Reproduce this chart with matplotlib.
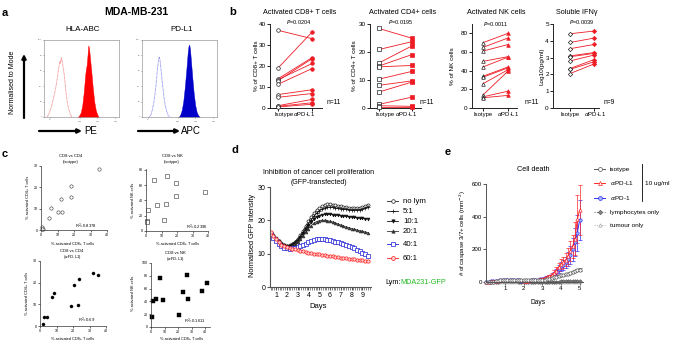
import numpy as np
import matplotlib
matplotlib.use('Agg')
import matplotlib.pyplot as plt
from matplotlib.ticker import FixedLocator, MultipleLocator

# ---------------- data ----------------
# panel a: flow histograms (x in relative log-fluorescence units 0-100, y in % of mode)
hla_iso_x = [4, 6, 8, 10, 12, 14, 16, 18, 19, 20, 21, 22, 23, 24, 25, 27, 29, 31, 33, 35, 37]
hla_iso_y = [0, 3, 8, 14, 22, 30, 40, 52, 60, 66, 72, 70, 77, 74, 68, 55, 35, 20, 10, 4, 0]
hla_pos_x = [45, 47, 49, 51, 53, 55, 56, 57, 58, 59, 60, 61, 63, 65, 67, 69, 71, 73]
hla_pos_y = [0, 2, 6, 15, 32, 55, 63, 68, 80, 93, 90, 80, 60, 38, 20, 9, 3, 0]
pdl1_iso_x = [10, 12, 14, 16, 18, 19, 20, 21, 22, 23, 24, 25, 27, 29, 31, 33, 35, 37]
pdl1_iso_y = [0, 3, 10, 20, 35, 45, 56, 66, 74, 78, 74, 65, 45, 28, 15, 7, 2, 0]
pdl1_pos_x = [49, 51, 53, 55, 57, 59, 60, 61, 62, 63, 64, 65, 67, 69, 71, 73, 75, 77]
pdl1_pos_y = [0, 3, 9, 20, 38, 60, 72, 84, 92, 94, 88, 76, 52, 30, 15, 6, 2, 0]
hist_tick_pos = [8, 48, 71, 95]
hist_tick_lab = ['0', '10$^3$', '10$^4$', '10$^5$']

# panel b: paired values (isotype vs anti-PD-L1)
b_groups = ['Isotype', r'$\alpha$PD-L1']
cd8_iso = [37.0, 19.0, 13.9, 13.5, 13.0, 11.3, 6.4, 5.1, 1.1, 0.8, 0.5]
cd8_pd = [33.0, 36.2, 24.0, 21.2, 23.5, 18.8, 8.7, 6.9, 4.1, 2.5, 1.8]
cd4_iso = [28.4, 20.9, 16.1, 15.0, 14.7, 10.3, 8.1, 5.7, 1.3, 0.8, 0.4]
cd4_pd = [24.9, 23.7, 22.2, 19.1, 15.2, 13.1, 9.7, 9.3, 3.9, 0.6, 0.4]
nk_iso = [70, 65, 61, 50, 44, 34, 33, 26, 14, 12, 11]
nk_pd = [80, 75, 68, 55, 54.5, 44, 43, 41, 39.5, 18, 13.5]
ifn_iso = [4.42, 3.90, 3.53, 3.10, 3.05, 2.80, 2.35, 2.30, 2.05]
ifn_pd = [4.58, 4.16, 3.78, 3.30, 3.25, 3.15, 2.88, 2.75, 2.62]

# panel c: correlations
c_tl_x = [35.4, 18.2, 18.2, 12.1, 6.3, 10.3, 12.9, 4.8, 0.6, 1.0, 0.4]
c_tl_y = [28.4, 20.8, 15.6, 14.5, 10.3, 8.4, 8.4, 5.6, 1.3, 0.6, 0.4]
c_tr_x = [1.5, 0.9, 0.9, 5.3, 7.0, 13.4, 13.2, 11.3, 19.6, 19.6, 38.0]
c_tr_y = [26.8, 13.0, 11.3, 67.0, 33.8, 72.3, 35.0, 14.3, 63.2, 45.9, 51.0]
c_bl_x = [31.9, 35.0, 23.4, 20.4, 8.5, 7.1, 18.6, 23.0, 2.4, 4.0, 1.8]
c_bl_y = [24.6, 23.4, 21.8, 18.9, 15.1, 13.2, 9.2, 9.7, 4.2, 4.2, 0.9]
c_br_x = [1.0, 1.2, 3.4, 6.9, 8.8, 20.9, 23.6, 26.5, 27.3, 37.6, 41.3]
c_br_y = [15.6, 40.0, 44.0, 76.0, 42.0, 19.3, 54.7, 80.7, 43.2, 56.3, 69.3]

# panel d: GFP intensity over days
d_days = [0.5, 0.75, 1.0, 1.25, 1.5, 1.75, 2.0, 2.25, 2.5, 2.75, 3.0, 3.25, 3.5, 3.75,
          4.0, 4.25, 4.5, 4.75, 5.0, 5.25, 5.5, 5.75, 6.0, 6.25, 6.5, 6.75, 7.0, 7.25,
          7.5, 7.75, 8.0, 8.25, 8.5, 8.75, 9.0, 9.25, 9.5]
d_nolym = [16.3, 15.5, 14.6, 13.8, 13.1, 12.6, 12.4, 12.5, 12.9, 13.6, 14.5, 15.6, 16.9, 18.3,
           19.7, 21.0, 22.1, 23.0, 23.7, 24.2, 24.6, 24.8, 24.8, 24.7, 24.5, 24.3, 24.2, 24.0,
           23.9, 23.8, 23.7, 23.7, 23.7, 23.8, 24.0, 24.3, 24.7]
d_5 = [16.0, 15.2, 14.4, 13.7, 13.0, 12.5, 12.3, 12.4, 12.8, 13.4, 14.2, 15.2, 16.4, 17.7,
       19.0, 20.2, 21.2, 22.1, 22.8, 23.3, 23.7, 23.9, 24.0, 23.9, 23.7, 23.6, 23.5, 23.4,
       23.3, 23.2, 23.1, 23.1, 23.1, 23.2, 23.3, 23.6, 24.0]
d_10 = [16.1, 15.3, 14.5, 13.7, 13.0, 12.5, 12.2, 12.2, 12.5, 13.0, 13.8, 14.8, 15.9, 17.1,
        18.3, 19.4, 20.3, 21.0, 21.4, 21.7, 21.8, 21.8, 21.8, 21.7, 21.6, 21.5, 21.4, 21.3,
        21.2, 21.1, 21.0, 20.9, 20.8, 20.7, 20.6, 20.5, 20.5]
d_20 = [16.0, 15.2, 14.4, 13.6, 12.9, 12.3, 12.0, 12.0, 12.3, 12.8, 13.5, 14.4, 15.4, 16.5,
        17.5, 18.4, 19.1, 19.6, 19.9, 20.0, 20.0, 19.9, 19.7, 19.5, 19.2, 18.9, 18.6, 18.3,
        18.0, 17.8, 17.5, 17.3, 17.1, 16.9, 16.7, 16.5, 16.3]
d_40 = [15.8, 14.8, 13.8, 13.0, 12.3, 11.8, 11.6, 11.5, 11.6, 11.8, 12.0, 12.3, 12.6, 13.0,
        13.4, 13.8, 14.1, 14.3, 14.4, 14.4, 14.3, 14.2, 14.0, 13.8, 13.6, 13.4, 13.1, 12.8,
        12.5, 12.2, 11.9, 11.6, 11.2, 10.8, 10.3, 9.8, 9.2]
d_60 = [16.5, 15.4, 14.3, 13.4, 12.7, 12.2, 11.9, 11.7, 11.5, 11.3, 11.1, 10.9, 10.7, 10.5,
        10.3, 10.1, 10.0, 9.9, 9.8, 9.6, 9.5, 9.4, 9.3, 9.2, 9.0, 8.9, 8.8, 8.7,
        8.6, 8.5, 8.4, 8.3, 8.2, 8.1, 8.0, 7.9, 7.8]
d_labels = ['no lym', '5:1', '10:1', '20:1', '40:1', '60:1']

# panel e: caspase 3/7+ cells over days
e_days = [0.0, 0.125, 0.25, 0.375, 0.5, 0.625, 0.75, 0.875, 1.0, 1.125, 1.25, 1.375, 1.5, 1.625,
          1.75, 1.875, 2.0, 2.125, 2.25, 2.375, 2.5, 2.625, 2.75, 2.875, 3.0, 3.125, 3.25, 3.375,
          3.5, 3.625, 3.75, 3.875, 4.0, 4.125, 4.25, 4.375, 4.5, 4.625, 4.75, 4.875, 5.0]
e_iso = [2, 2, 3, 3, 4, 6, 10, 13, 15, 15, 14, 13, 12, 11, 10, 10, 10, 10, 10, 10,
         10, 11, 11, 12, 13, 14, 16, 18, 22, 28, 33, 37, 40, 43, 46, 50, 55, 62, 68, 73, 76]
e_iso_err = [1, 1, 1, 1, 1, 2, 2, 2, 2, 2, 2, 2, 2, 2, 2, 2, 2, 2, 2, 2,
             2, 2, 2, 2, 2, 2, 3, 3, 3, 4, 4, 4, 5, 5, 5, 6, 6, 6, 7, 7, 8]
e_pdl1 = [2, 3, 4, 5, 6, 8, 11, 14, 15, 15, 14, 13, 12, 11, 10, 10, 9, 9, 9, 10,
          11, 13, 15, 18, 21, 25, 30, 36, 42, 55, 70, 92, 108, 120, 135, 160, 190, 220, 265, 385, 440]
e_pdl1_err = [1, 1, 1, 1, 2, 2, 3, 3, 3, 3, 3, 3, 3, 2, 2, 2, 2, 2, 2, 2,
              3, 3, 4, 4, 5, 6, 7, 9, 12, 16, 20, 25, 30, 35, 40, 50, 60, 70, 100, 145, 155]
e_pd1 = [2, 3, 4, 5, 6, 8, 10, 13, 14, 14, 13, 12, 11, 10, 10, 9, 9, 9, 9, 10,
         11, 12, 14, 17, 20, 23, 27, 32, 38, 48, 62, 80, 95, 105, 120, 140, 165, 200, 245, 300, 380]
e_pd1_err = [1, 1, 1, 1, 2, 2, 3, 3, 3, 3, 3, 3, 2, 2, 2, 2, 2, 2, 2, 2,
             3, 3, 4, 4, 5, 6, 7, 8, 10, 14, 18, 22, 26, 30, 35, 45, 55, 70, 85, 110, 125]
e_lym = [1, 1, 2, 2, 3, 3, 4, 5, 5, 5, 5, 4, 4, 4, 3, 3, 3, 3, 3, 3,
         3, 3, 3, 3, 3, 3, 3, 3, 3, 3, 3, 3, 4, 4, 4, 4, 4, 4, 4, 4, 4]
e_tum = [1, 1, 1, 1, 1, 1, 1, 1, 1, 1, 1, 1, 1, 1, 1, 1, 1, 1, 1, 1,
         1, 1, 1, 1, 1, 1, 1, 1, 1, 1, 1, 1, 1, 1, 1, 1, 1, 1, 1, 1, 1]
e_labels = ['isotype', r'$\alpha$PD-L1', r'$\alpha$PD-1', 'lymphocytes only', 'tumour only']

# ---------------- figure ----------------
plt.rcParams['font.family'] = ['Liberation Sans', 'DejaVu Sans']
plt.rcParams['mathtext.fontset'] = 'dejavusans'
W, H = 677, 347
fig = plt.figure(figsize=(6.77, 3.47), dpi=100)

RED = '#ee1c25'
BLUE = '#1a1ad6'


def add_ax(L, T, R, B):
    return fig.add_axes([L / W, 1 - B / H, (R - L) / W, (B - T) / H])


axo = fig.add_axes([0, 0, 1, 1], zorder=20)
axo.set_xlim(0, W)
axo.set_ylim(H, 0)
axo.axis('off')
axo.patch.set_alpha(0)


def T(x, y, s, size=5, ha='center', va='center', **kw):
    axo.text(x, y, s, fontsize=size, ha=ha, va=va, **kw)


def style(ax, lw=0.7, col='#222222', tl=2.0, fs=4.5):
    for s in ['top', 'right']:
        ax.spines[s].set_visible(False)
    for s in ['left', 'bottom']:
        ax.spines[s].set_linewidth(lw)
        ax.spines[s].set_color(col)
    ax.tick_params(width=lw, length=tl, labelsize=fs, pad=1, color=col)


# ---------- panel a ----------
T(2, 13, 'a', size=8, ha='left', weight='bold')
T(136, 12, 'MDA-MB-231', size=7.5, weight='bold')
T(83, 29, 'HLA-ABC', size=5.8)
T(182, 29, 'PD-L1', size=5.8)
for (L, R, ix, iy, px, py, c_iso, c_pos) in [
        (44, 119, hla_iso_x, hla_iso_y, hla_pos_x, hla_pos_y, '#f08080', '#ff0000'),
        (142, 217, pdl1_iso_x, pdl1_iso_y, pdl1_pos_x, pdl1_pos_y, '#8080f0', '#0000c8')]:
    ax = add_ax(L, 40, R, 117)
    ax.set_xlim(0, 100)
    ax.set_ylim(0, 100)
    ax.plot(ix, iy, color=c_iso, lw=0.6, ls=(0, (1, 0.6)))
    ax.fill_between(px, py, color=c_pos, lw=0.3)
    for s in ax.spines.values():
        s.set_linewidth(0.5)
        s.set_color('#9a9a9a')
    ax.set_yticks([0, 20, 40, 60, 80, 100])
    ax.set_yticklabels(['0', '20', '40', '60', '80', '100'])
    ax.set_xticks(hist_tick_pos)
    ax.set_xticklabels(hist_tick_lab)
    ax.tick_params(length=1, width=0.4, labelsize=1.6, pad=0.5, colors='#555555')
T(13, 82, 'Normalised to Mode', size=5, rotation=90)
axo.annotate('', xy=(24, 54), xytext=(24, 118),
             arrowprops=dict(arrowstyle='-|>', lw=1.6, color='k', mutation_scale=6, shrinkA=0, shrinkB=0))
axo.annotate('', xy=(82, 131), xytext=(39, 131),
             arrowprops=dict(arrowstyle='-|>', lw=1.6, color='k', mutation_scale=6, shrinkA=0, shrinkB=0))
axo.annotate('', xy=(180, 131), xytext=(138, 131),
             arrowprops=dict(arrowstyle='-|>', lw=1.6, color='k', mutation_scale=6, shrinkA=0, shrinkB=0))
T(91, 131, 'PE', size=7)
T(191, 131, 'APC', size=7)

# ---------- panel b ----------
T(233, 12, 'b', size=8, weight='bold')
b_specs = [
    dict(L=270, R=322, xl=(-0.235, 1.29), iso=cd8_iso, pd=cd8_pd, ylim=(0, 40), ticks=[0, 10, 20, 30, 40],
         m='o', title='Activated CD8+ T cells', tx=300, ylab='% of CD8+ T cells', ylx=256,
         p='=0.0204', px=299, py=22, n='n=11', nx=327, lab=(284, 304)),
    dict(L=370, R=421, xl=(-0.273, 1.27), iso=cd4_iso, pd=cd4_pd, ylim=(0, 30), ticks=[0, 10, 20, 30],
         m='s', title='Activated CD4+ cells', tx=403, ylab='% of CD4+ T cells', ylx=355,
         p='=0.0195', px=401, py=22, n='n=11', nx=420, lab=(385, 406)),
    dict(L=472, R=517, xl=(-0.44, 1.36), iso=nk_iso, pd=nk_pd, ylim=(0, 90), ticks=[0, 20, 40, 60, 80],
         m='^', title='Activated NK cells', tx=496, ylab='% of NK cells', ylx=452,
         p='=0.0011', px=496, py=24, n='n=11', nx=525, lab=(483, 508)),
    dict(L=553, R=599, xl=(-0.71, 1.21), iso=ifn_iso, pd=ifn_pd, ylim=(0, 5), ticks=[0, 1, 2, 3, 4, 5],
         m='D', title='Soluble IFN\u03b3', tx=577, ylab='Log10(pg/ml)', ylx=542,
         p='=0.0039', px=582, py=22, n='n=9', nx=604, lab=(570, 595)),
]
for sp in b_specs:
    ax = add_ax(sp['L'], 24, sp['R'], 108)
    ax.set_xlim(*sp['xl'])
    ax.set_ylim(*sp['ylim'])
    ms = 2.6 if sp['m'] != 'D' else 2.2
    for a, b in zip(sp['iso'], sp['pd']):
        ax.plot([0, 1], [a, b], color=RED, lw=0.6, zorder=2)
    ax.plot(np.zeros(len(sp['iso'])), sp['iso'], ls='none', marker=sp['m'], ms=ms,
            mfc='white', mec='#222222', mew=0.5, zorder=3, clip_on=False)
    ax.plot(np.ones(len(sp['pd'])), sp['pd'], ls='none', marker=sp['m'], ms=ms,
            mfc=RED, mec=RED, mew=0.5, zorder=3, clip_on=False)
    ax.set_yticks(sp['ticks'])
    ax.set_xticks([0, 1])
    ax.set_xticklabels(['', ''])
    style(ax, lw=0.7, fs=4.6)
    T(sp['tx'], 12, sp['title'], size=5.2)
    T(sp['ylx'], 66, sp['ylab'], size=4.6, rotation=90)
    T(sp['px'], sp['py'], '$P$' + sp['p'], size=4.0)
    T(sp['nx'], 102, sp['n'], size=4.8, ha='left')
    T(sp['lab'][0], 114, b_groups[0], size=4.2)
    T(sp['lab'][1], 114, b_groups[1], size=4.2)

# ---------- panel c ----------
T(5, 154, 'c', size=8, weight='bold')
c_specs = [
    dict(box=(41, 166, 107, 230), x=c_tl_x, y=c_tl_y, xlim=(0, 40), ylim=(0, 30), yt=[0, 10, 20, 30],
         m='o', filled=False, t1='CD8 vs CD4', t2='(isotype)', tx=71, ty=156,
         r2='R$^2$=0.8378', rx=97, ry=226, ylab='% activated CD4+ T cells', ylx=28, yly=197, xlx=73, xly=244),
    dict(box=(146, 169, 208, 231), x=c_tr_x, y=c_tr_y, xlim=(0, 40), ylim=(0, 81), yt=[0, 20, 40, 60, 80],
         m='s', filled=False, t1='CD8 vs NK', t2='(isotype)', tx=172, ty=156,
         r2='R$^2$=0.2396', rx=208, ry=227, ylab='% activated NK cells', ylx=133, yly=200, xlx=178, xly=244),
    dict(box=(40, 261, 106, 326), x=c_bl_x, y=c_bl_y, xlim=(0, 40), ylim=(0, 30), yt=[0, 10, 20, 30],
         m='o', filled=True, t1='CD8 vs CD4', t2='($\\alpha$PD-L1)', tx=72, ty=251,
         r2='R$^2$=0.69', rx=95, ry=320, ylab='% activated CD4+ T cells', ylx=27, yly=293, xlx=73, xly=339),
    dict(box=(151, 263, 210, 327), x=c_br_x, y=c_br_y, xlim=(0, 43.5), ylim=(0, 100), yt=[0, 20, 40, 60, 80, 100],
         m='s', filled=True, t1='CD8 vs NK', t2='($\\alpha$PD-L1)', tx=175, ty=253,
         r2='R$^2$=0.1611', rx=206, ry=321, ylab='% activated NK cells', ylx=133, yly=293, xlx=182, xly=339),
]
for sp in c_specs:
    L, Tp, R, B = sp['box']
    ax = add_ax(L, Tp, R, B)
    ax.set_xlim(*sp['xlim'])
    ax.set_ylim(*sp['ylim'])
    if sp['filled']:
        ax.plot(sp['x'], sp['y'], ls='none', marker=sp['m'], ms=2.2, mfc='k', mec='k', mew=0.3, clip_on=False)
    else:
        ax.plot(sp['x'], sp['y'], ls='none', marker=sp['m'], ms=2.4, mfc='white', mec='#333333', mew=0.4, clip_on=False)
    ax.set_xticks([0, 10, 20, 30, 40])
    ax.set_yticks(sp['yt'])
    style(ax, lw=0.5, col='#333333', tl=1.2, fs=2.6)
    T(sp['tx'], sp['ty'], sp['t1'], size=3)
    T(sp['tx'], sp['ty'] + 6, sp['t2'], size=3)
    T(sp['rx'], sp['ry'], sp['r2'], size=3, ha='right')
    T(sp['ylx'], sp['yly'], sp['ylab'], size=2.8, rotation=90)
    T(sp['xlx'], sp['xly'], '% activated CD8+ T cells', size=2.8)

# ---------- panel d ----------
T(235, 150, 'd', size=8, weight='bold')
T(319, 172, 'Inhibition of cancer cell proliferation', size=5)
T(319, 182, '(GFP-transfected)', size=5)
axd = add_ax(270, 187, 371, 287)
d_series = [d_nolym, d_5, d_10, d_20, d_40, d_60]
d_style = [
    dict(color='#222222', marker='o', mfc='white', ms=2.2),
    dict(color='#111111', marker='+', mfc='#111111', ms=2.4),
    dict(color='#111111', marker='v', mfc='#111111', ms=2.0),
    dict(color='#333333', marker='^', mfc='#333333', ms=2.0),
    dict(color=BLUE, marker='s', mfc='white', ms=2.4),
    dict(color='#ff2020', marker='o', mfc='#ffd0d0', ms=2.4),
]
for ys, st in zip(d_series, d_style):
    axd.plot(d_days, ys, lw=0.6, color=st['color'], marker=st['marker'], ms=st['ms'],
             mfc=st['mfc'], mec=st['color'], mew=0.5)
axd.set_xlim(0.44, 9.8)
axd.set_ylim(0, 30)
axd.set_yticks([0, 10, 20, 30])
axd.set_xticks(range(1, 10))
axd.xaxis.set_minor_locator(MultipleLocator(1 / 6))
style(axd, lw=0.8, col='#555555', tl=2.5, fs=5.0)
axd.tick_params(which='minor', length=2.0, width=0.5, color='#555555')
T(253, 235, 'Normalised GFP intensity', size=5.3, rotation=90)
T(318, 306, 'Days', size=5.5)
leg_y = [201, 211, 221, 231, 244, 258]
for yy, lab, st in zip(leg_y, d_labels, d_style):
    axo.plot([387, 398], [yy, yy], lw=0.6, color=st['color'])
    axo.plot([392.5], [yy], marker=st['marker'], ms=st['ms'] + 0.4, mfc=st['mfc'], mec=st['color'], mew=0.5, ls='none')
    T(403, yy, lab, size=5.6, ha='left')
T(385, 282, 'Lym:', size=5.2, ha='left')
T(400, 282, 'MDA231-GFP', size=5.2, ha='left', color='#22bb22')

# ---------- panel e ----------
T(448, 152, 'e', size=8, weight='bold')
T(533, 169, 'Cell death', size=5.2)
axe = add_ax(486, 184, 583, 282)
e_style = [
    dict(y=e_iso, err=e_iso_err, color='#555555', marker='o', mfc='white', ms=2.4, ls='-'),
    dict(y=e_pdl1, err=e_pdl1_err, color='#ff2a2a', marker='^', mfc='white', ms=2.4, ls='-'),
    dict(y=e_pd1, err=e_pd1_err, color='#2f2fff', marker='o', mfc='#9fb5ff', ms=2.4, ls='-'),
    dict(y=e_lym, err=None, color='#555555', marker='D', mfc='#888888', ms=1.8, ls=':'),
    dict(y=e_tum, err=None, color='#aaaaaa', marker='^', mfc='white', ms=2.0, ls=':'),
]
for st in e_style[::-1]:
    if st['err'] is not None:
        axe.errorbar(e_days, st['y'], yerr=st['err'], color=st['color'], lw=0.7, elinewidth=0.5,
                     capsize=1.2, capthick=0.5, marker=st['marker'], ms=st['ms'], mfc=st['mfc'],
                     mec=st['color'], mew=0.5, ls=st['ls'], clip_on=False)
    else:
        axe.plot(e_days, st['y'], color=st['color'], lw=0.6, marker=st['marker'], ms=st['ms'],
                 mfc=st['mfc'], mec=st['color'], mew=0.5, ls=st['ls'], clip_on=False)
axe.set_xlim(-0.02, 5.18)
axe.set_ylim(0, 600)
axe.set_yticks([0, 200, 400, 600])
axe.set_xticks([1, 2, 3, 4, 5])
style(axe, lw=0.7, col='#555555', tl=2.0, fs=4.4)
T(463, 233, '# of caspase 3/7+ cells (mm$^{-2}$)', size=4.4, rotation=90)
T(538, 303, 'Days', size=4.8)
e_leg_y = [169, 183, 198, 212, 225]
for yy, lab, st in zip(e_leg_y, e_labels, e_style):
    axo.plot([594, 605], [yy, yy], lw=0.7, color=st['color'], ls=st['ls'])
    axo.plot([599.5], [yy], marker=st['marker'], ms=st['ms'] + 0.4, mfc=st['mfc'], mec=st['color'], mew=0.5, ls='none')
    T(610, yy, lab, size=4.6, ha='left')
axo.plot([642, 642], [164, 201], lw=0.6, color='k')
T(645, 183, '10 ug/ml', size=4.6, ha='left')

fig.savefig('out.png', dpi=100)
